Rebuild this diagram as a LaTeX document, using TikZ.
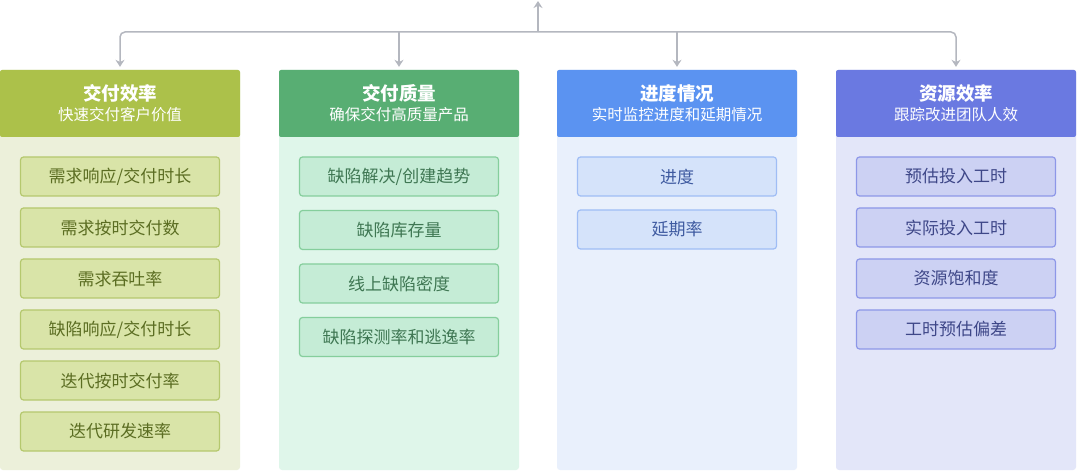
\documentclass[tikz,border=0pt]{standalone}
\usepackage{fontspec}
\setmainfont{Noto Sans CJK SC}
\usepackage{xcolor}
\usetikzlibrary{arrows.meta, positioning}

\definecolor{linegray}{HTML}{B4B7BF}
\definecolor{effhead}{HTML}{ACC14A}
\definecolor{effbody}{HTML}{ECF0DA}
\definecolor{efffill}{HTML}{D9E4A8}
\definecolor{effline}{HTML}{B5C86E}
\definecolor{efftext}{HTML}{5B6D22}
\definecolor{qualhead}{HTML}{58AE73}
\definecolor{qualbody}{HTML}{DFF6EA}
\definecolor{qualfill}{HTML}{C5ECD6}
\definecolor{qualline}{HTML}{85CE9C}
\definecolor{qualtext}{HTML}{3F7753}
\definecolor{proghead}{HTML}{5B93F1}
\definecolor{progbody}{HTML}{E9F0FC}
\definecolor{progfill}{HTML}{D5E3FA}
\definecolor{progline}{HTML}{9FBDF5}
\definecolor{progtext}{HTML}{3E5AA0}
\definecolor{reshead}{HTML}{6A79E1}
\definecolor{resbody}{HTML}{E3E6F9}
\definecolor{resfill}{HTML}{CCD1F3}
\definecolor{resline}{HTML}{8D97E8}
\definecolor{restext}{HTML}{3E4788}

\begin{document}
\begin{tikzpicture}[x=1pt, y=-1pt, >={Stealth[length=7pt, width=9pt]},
    flow/.style={draw=linegray, line width=1.5pt},
    colbody/.style={fill=#1, rounded corners=3pt, minimum width=240pt,
        minimum height=400pt, inner sep=0pt},
    colhead/.style={fill=#1, rounded corners=2pt, minimum width=240pt,
        minimum height=67pt, inner sep=0pt, text=white, align=center},
    metric/.style n args={3}{fill=#1, draw=#2, text=#3, line width=1.2pt,
        rounded corners=3pt, minimum width=199pt, minimum height=39pt,
        inner sep=0pt, font=\fontsize{17}{20}\selectfont}]
    % 画布
    \path[use as bounding box, fill=white] (0,0) rectangle (1080,473);

    % 四列底板
    \node[colbody=effbody]  (b1) at (120,270) {};
    \node[colbody=qualbody] (b2) at (399,270) {};
    \node[colbody=progbody] (b3) at (677,270) {};
    \node[colbody=resbody]  (b4) at (956,270) {};

    % 列标题
    \node[colhead=effhead] (h1) at (120,103.5)
        {{\fontsize{18.5}{22}\selectfont\bfseries 交付效率}\\[4pt]{\fontsize{15.5}{19}\selectfont 快速交付客户价值}};
    \node[colhead=qualhead] (h2) at (399,103.5)
        {{\fontsize{18.5}{22}\selectfont\bfseries 交付质量}\\[4pt]{\fontsize{15.5}{19}\selectfont 确保交付高质量产品}};
    \node[colhead=proghead] (h3) at (677,103.5)
        {{\fontsize{18.5}{22}\selectfont\bfseries 进度情况}\\[4pt]{\fontsize{15.5}{19}\selectfont 实时监控进度和延期情况}};
    \node[colhead=reshead] (h4) at (956,103.5)
        {{\fontsize{18.5}{22}\selectfont\bfseries 资源效率}\\[4pt]{\fontsize{15.5}{19}\selectfont 跟踪改进团队人效}};

    % 指标
    \foreach \t [count=\i] in {{需求响应/交付时长}, 需求按时交付数, 需求吞吐率,
            {缺陷响应/交付时长}, 迭代按时交付率, 迭代研发速率} {
        \node[metric={efffill}{effline}{efftext}] (e\i) at (120,{176.5+51*(\i-1)}) {\t};
    }
    \foreach \t [count=\i] in {{缺陷解决/创建趋势}, 缺陷库存量, 线上缺陷密度, 缺陷探测率和逃逸率} {
        \node[metric={qualfill}{qualline}{qualtext}] (q\i) at (399,{176.5+53.5*(\i-1)}) {\t};
    }
    \foreach \t [count=\i] in {进度, 延期率} {
        \node[metric={progfill}{progline}{progtext}] (p\i) at (677,{176.5+53*(\i-1)}) {\t};
    }
    \foreach \t [count=\i] in {预估投入工时, 实际投入工时, 资源饱和度, 工时预估偏差} {
        \node[metric={resfill}{resline}{restext}] (r\i) at (956,{176.5+51*(\i-1)}) {\t};
    }

    % 连线
    \coordinate (top) at (538,1);
    \coordinate (hub) at (538,32);
    \draw[->, flow] (hub) -- (top);
    \draw[->, flow, rounded corners=5pt, shorten >=3pt] (hub) -| (h1.north);
    \draw[->, flow, rounded corners=5pt, shorten >=3pt] (hub) -| (h4.north);
    \draw[->, flow, shorten >=3pt] (hub -| h2.north) -- (h2.north);
    \draw[->, flow, shorten >=3pt] (hub -| h3.north) -- (h3.north);
\end{tikzpicture}
\end{document}
